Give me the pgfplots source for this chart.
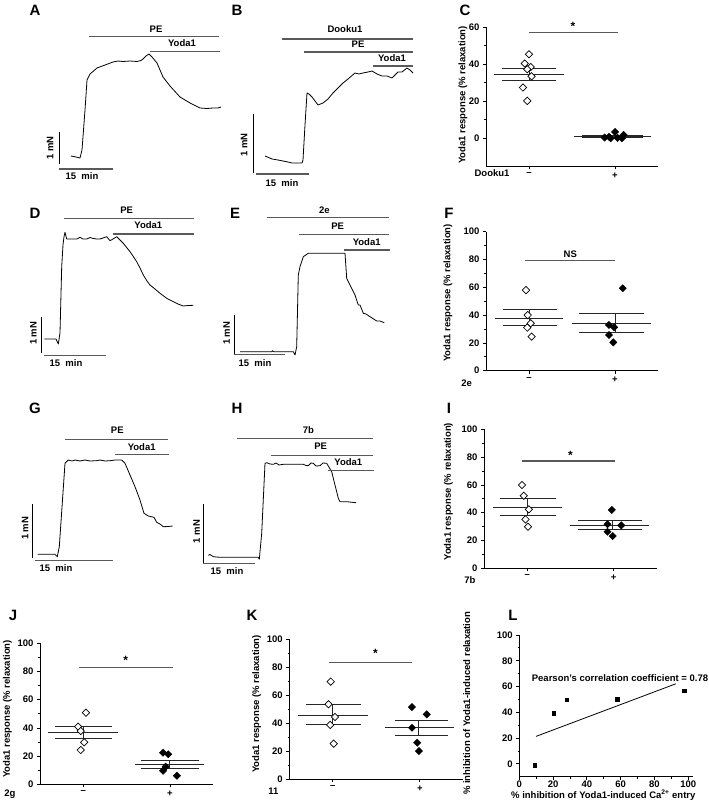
\documentclass[border=0pt]{standalone}
\usepackage{fontspec}
\setmainfont{Liberation Sans}
\usepackage{pgfplots}
\pgfplotsset{compat=1.18}
\definecolor{barc}{gray}{0.35}
\newcommand{\lf}{\bfseries\fontsize{9.5}{11}\selectfont}
\newcommand{\pf}{\bfseries\fontsize{15}{17}\selectfont}
\pgfplotsset{
 dot/.style={scale only axis, axis lines*=left, axis line style={line width=0.9pt},
   xmin=0.5, xmax=2.5, xtick={1,2}, xticklabels={–,+}, tick align=outside,
   major tick length=3pt, minor tick length=1.8pt, tick style={line width=0.8pt, black},
   minor y tick num=1, ticklabel style={font=\lf}, /pgf/number format/assume math mode=true,
   clip=false, anchor=south west},
 om/.style={only marks, mark=square*, mark size=2.6pt, mark options={rotate=45, fill=white, draw=black, line width=0.7pt}},
 fm/.style={only marks, mark=square*, mark size=2.6pt, mark options={rotate=45, fill=black, draw=black}},
 ml/.style={black!85, line width=1pt},
 sg/.style={barc, line width=1.1pt},
 tr/.style={black, line width=0.8pt, line join=round},
 tb/.style={barc, line width=1.1pt},
}
\begin{document}
\begin{tikzpicture}
\useasboundingbox (0,0) rectangle (709pt,-808pt);
% ---------------- traces and labels -------------
\begin{axis}[at={(0pt,-808pt)}, anchor=south west, scale only axis, width=709pt, height=808pt,
  xmin=0, xmax=709, ymin=-808, ymax=0, hide axis, clip=false]
% A
\addplot[tr] coordinates {(71,-156)(76,-157)(80,-158)(82,-150)(85,-110)(87,-80)(90,-74)(97,-68)(105,-65)(113,-62)(118,-61)(123,-61.5)(130,-61)(137,-61.5)(141,-60.5)(143,-59)(146,-56)(149,-54)(152,-57)(157,-63)(160,-70)(163,-77)(170,-86)(180,-97)(190,-103)(200,-108)(207,-108.5)(213,-108)(218,-108)(221,-107)};
\addplot[tb] coordinates {(89,-36.7)(219,-36.7)};
\addplot[tb] coordinates {(150,-51.7)(220,-51.7)};
\addplot[tr] coordinates {(59,-132)(59,-164)};
\addplot[tb] coordinates {(59,-169)(113,-169)};
% B
\addplot[tr] coordinates {(265,-156)(272,-159)(278,-160)(283,-161)(288,-162)(292,-163)(297,-163)(302,-163)(303,-160)(305,-125)(307,-93)(309,-94)(312,-97)(318,-105)(323,-103)(328,-99)(333,-93)(338,-88)(343,-83)(348,-79)(355,-73)(359,-74)(363,-73)(368,-72)(372,-71)(377,-74)(382,-76)(387,-76)(392,-78)(395,-75)(398,-72)(402,-72)(407,-68)(410,-70)(413,-73)};
\addplot[tb] coordinates {(282,-39)(413,-39)};
\addplot[tb] coordinates {(304,-52)(413,-52)};
\addplot[tb] coordinates {(373,-66)(413,-66)};
\addplot[tr] coordinates {(253,-114)(253,-173)};
\addplot[tb] coordinates {(256,-174)(309,-174)};
% D
\addplot[tr] coordinates {(44.3,-339)(56,-339)(58.3,-344)(60,-333)(61.7,-266.7)(63,-245)(64,-236.7)(65,-232.3)(66.7,-239)(70,-239)(76.7,-239)(80,-237.3)(83,-239)(86.7,-239)(90,-237.5)(93.3,-238.5)(96.7,-239)(100,-239)(103,-238)(106.7,-236.7)(110,-240.7)(113,-239)(116.7,-236.7)(120,-240)(123.3,-243.3)(130,-251.7)(133,-256)(136.7,-261.7)(140,-268)(143.3,-275)(147,-281)(150,-285)(155,-289)(160,-293.3)(166.7,-298.3)(173.3,-301.7)(178,-304)(183.3,-306)(188,-305.5)(193.3,-305.3)};
\addplot[tb] coordinates {(64,-218.3)(194,-218.3)};
\addplot[tb] coordinates {(112.7,-234)(194,-234)};
\addplot[tr] coordinates {(41.7,-316.7)(41.7,-352.7)};
\addplot[tb] coordinates {(44.3,-355.7)(106,-355.7)};
% E
\addplot[tr] coordinates {(240,-351.7)(271.7,-351.7)(272.5,-350.7)(273.5,-351.7)(293.3,-351.7)(295,-355)(296.7,-346.7)(298.3,-275)(300,-266.7)(303.3,-256.7)(308.3,-253.3)(345,-253.3)(346.7,-278.3)(350,-285)(355,-295)(358.3,-305)(360,-305)(363.3,-313.3)(366,-314)(370,-316.7)(376.7,-321)(380,-321)(384.3,-322.7)};
\addplot[tb] coordinates {(266.7,-217.3)(389.3,-217.3)};
\addplot[tb] coordinates {(299,-234.3)(389.3,-234.3)};
\addplot[tb] coordinates {(344,-250)(390,-250)};
\addplot[tr] coordinates {(234,-315)(234,-354)};
\addplot[tb] coordinates {(234,-354.3)(285,-354.3)};
% G
\addplot[tr] coordinates {(37.7,-554.3)(55,-554.3)(57.3,-556.7)(59.3,-546.7)(65,-463.3)(68.3,-460)(72,-461)(75,-460)(80,-461)(85,-460)(90,-461)(96.7,-460.7)(100,-460)(105,-461)(110,-460.7)(115,-460)(121.7,-460)(125,-463.3)(130,-475)(135,-486.7)(140,-500)(144,-513.3)(148.3,-516)(154,-517.3)(156.7,-522.3)(160,-524)(163.3,-526.7)(168,-526.5)(172.7,-526)};
\addplot[tb] coordinates {(65,-439.3)(168.3,-439.3)};
\addplot[tb] coordinates {(115,-454.3)(169,-454.3)};
\addplot[tr] coordinates {(32.3,-504)(32.3,-557.7)};
\addplot[tb] coordinates {(35,-560.7)(112.7,-560.7)};
% H
\addplot[tr] coordinates {(208.3,-555.3)(210,-554.5)(213.3,-556.7)(220,-557.3)(258.3,-557.3)(259.3,-559.3)(261.7,-533.3)(265,-463.3)(266.7,-462.7)(270,-464)(273.3,-464.3)(276,-463)(279,-465)(283.3,-464.3)(303.3,-464.3)(306,-465.5)(308.3,-465.7)(311,-463)(313.3,-463.3)(316,-466)(320,-465.7)(323,-463)(326.7,-463.3)(331.7,-471.7)(335,-485)(338.3,-498.3)(340,-501.7)(346.7,-501.7)(356,-502.7)};
\addplot[tb] coordinates {(237.3,-438.3)(373.3,-438.3)};
\addplot[tb] coordinates {(270.7,-455.7)(373.3,-455.7)};
\addplot[tb] coordinates {(328.3,-470.7)(374,-470.7)};
\addplot[tr] coordinates {(203.3,-504.3)(203.3,-562.7)};
\addplot[tb] coordinates {(203.3,-563.3)(255,-563.3)};
% panel letters
\node[font=\pf] at (axis cs:35,-10) {A};
\node[font=\pf] at (axis cs:237,-10) {B};
\node[font=\pf] at (axis cs:465,-10) {C};
\node[font=\pf] at (axis cs:35,-213) {D};
\node[font=\pf] at (axis cs:235,-213) {E};
\node[font=\pf] at (axis cs:449,-213) {F};
\node[font=\pf] at (axis cs:35,-408) {G};
\node[font=\pf] at (axis cs:237,-408) {H};
\node[font=\pf] at (axis cs:449,-408) {I};
\node[font=\pf] at (axis cs:13,-615) {J};
\node[font=\pf] at (axis cs:252,-615) {K};
\node[font=\pf] at (axis cs:513,-615) {L};
% trace labels
\begin{scope}[every node/.style={font=\lf, inner sep=0pt}]
\node at (axis cs:156,-29) {PE};
\node at (axis cs:182,-43) {Yoda1};
\node[rotate=90] at (axis cs:50,-148) {1 mN};
\node at (axis cs:82,-176) {15~ min};
\node at (axis cs:345,-29) {Dooku1};
\node at (axis cs:358,-44) {PE};
\node at (axis cs:392,-58) {Yoda1};
\node[rotate=90] at (axis cs:244,-145) {1 mN};
\node at (axis cs:282,-183) {15~ min};
\node at (axis cs:126.7,-210.7) {PE};
\node at (axis cs:148.3,-225) {Yoda1};
\node[rotate=90] at (axis cs:33.3,-333.3) {1 mN};
\node at (axis cs:66,-363.3) {15~ min};
\node at (axis cs:324.3,-210) {2e};
\node at (axis cs:337.7,-226.7) {PE};
\node at (axis cs:366.7,-242.3) {Yoda1};
\node[rotate=90] at (axis cs:226.7,-333.3) {1 mN};
\node at (axis cs:255,-363.3) {15~ min};
\node at (axis cs:117.3,-430.7) {PE};
\node at (axis cs:141.7,-446.7) {Yoda1};
\node[rotate=90] at (axis cs:25,-528.3) {1 mN};
\node at (axis cs:56,-568.3) {15~ min};
\node at (axis cs:308.3,-430) {7b};
\node at (axis cs:320.7,-446.7) {PE};
\node at (axis cs:348.3,-461.7) {Yoda1};
\node[rotate=90] at (axis cs:196.7,-531.7) {1 mN};
\node at (axis cs:227,-570.7) {15~ min};
% y labels of dot plots
\node[rotate=90] at (axis cs:463,-95) {Yoda1 response (\% relaxation)};
\node[rotate=90] at (axis cs:448,-293) {Yoda1 response (\% relaxation)};
\node[rotate=90] at (axis cs:448.3,-491.7) {Yoda1 response (\% relaxation)};
\node[rotate=90] at (axis cs:7.3,-709) {Yoda1 response (\% relaxation)};
\node[rotate=90] at (axis cs:256.7,-704) {Yoda1 response (\% relaxation)};
\node[rotate=90] at (axis cs:466.7,-703.3) {\% inhibition of Yoda1-induced relaxation};
\node at (axis cs:603.3,-795) {\% inhibition of Yoda1-induced Ca\textsuperscript{2+} entry};
\node at (axis cs:620,-678.3) {Pearson's correlation coefficient = 0.78};
\node at (axis cs:492,-173) {Dooku1};
\node at (axis cs:466.7,-383) {2e};
\node at (axis cs:470,-580) {7b};
\node at (axis cs:10,-794) {2g};
\node at (axis cs:273.3,-791.7) {11};
\end{scope}
\end{axis}
% ---------------- C ----------------
\begin{axis}[dot, at={(486pt,-166pt)}, width=172pt, height=138.75pt, ymin=-15, ymax=60, ytick={0,20,40,60}]
\addplot[om] coordinates {(1.00,45.4)(0.95,40.4)(1.02,38.5)(0.98,37.3)(1.03,33.5)(0.93,27.4)(0.98,20.2)};
\addplot[ml] coordinates {(0.59,34.6)(1.41,34.6)};
\addplot[ml] coordinates {(0.69,37.7)(1.31,37.7)};
\addplot[ml] coordinates {(0.69,31.4)(1.31,31.4)};
\addplot[ml] coordinates {(1,31.4)(1,37.7)};
\addplot[fm] coordinates {(2.00,3.4)(2.10,1.8)(1.88,0.4)(1.95,0)(2.03,0.2)(2.08,0)(1.93,0.8)};
\addplot[ml] coordinates {(1.52,1.0)(2.42,1.0)};
\addplot[ml] coordinates {(1.62,1.6)(2.32,1.6)};
\addplot[ml] coordinates {(1.62,0.4)(2.32,0.4)};
\addplot[sg] coordinates {(1.0,57.3)(2.03,57.3)};
\node[font=\bfseries\fontsize{12}{14}\selectfont, yshift=-2.5pt] at (axis cs:1.51,61.6) {*};
\end{axis}
% ---------------- F ----------------
\begin{axis}[dot, at={(486pt,-370.7pt)}, width=172pt, height=139pt, ymin=0, ymax=100, ytick={0,20,...,100}]
\addplot[om] coordinates {(0.965,58)(0.985,40)(1.02,34.1)(0.98,31)(1.03,24.5)};
\addplot[ml] coordinates {(0.605,37.7)(1.395,37.7)};
\addplot[ml] coordinates {(0.70,43.7)(1.33,43.7)};
\addplot[ml] coordinates {(0.70,32.2)(1.33,32.2)};
\addplot[ml] coordinates {(1,32.2)(1,43.7)};
\addplot[fm] coordinates {(2.09,59.3)(1.93,32.9)(1.99,31.2)(1.93,25.7)(1.98,20.4)};
\addplot[ml] coordinates {(1.5,34.1)(2.42,34.1)};
\addplot[ml] coordinates {(1.58,41.0)(2.34,41.0)};
\addplot[ml] coordinates {(1.58,27.4)(2.34,27.4)};
\addplot[ml] coordinates {(2,27.4)(2,41.0)};
\addplot[sg] coordinates {(0.95,79.1)(2.0,79.1)};
\node[font=\lf] at (axis cs:1.48,84) {NS};
\end{axis}
% ---------------- I ----------------
\begin{axis}[dot, at={(484pt,-568.3pt)}, width=172.7pt, height=139pt, ymin=0, ymax=100, ytick={0,20,...,100}]
\addplot[om] coordinates {(0.94,59.9)(0.96,52.2)(1.02,42.4)(0.98,35.2)(1.01,29.9)};
\addplot[ml] coordinates {(0.608,43.9)(1.40,43.9)};
\addplot[ml] coordinates {(0.69,49.9)(1.33,49.9)};
\addplot[ml] coordinates {(0.69,38.3)(1.33,38.3)};
\addplot[ml] coordinates {(1,38.3)(1,49.9)};
\addplot[fm] coordinates {(1.98,42)(1.93,31.7)(2.09,30.9)(1.93,26.3)(1.99,23.2)};
\addplot[ml] coordinates {(1.496,30.9)(2.41,30.9)};
\addplot[ml] coordinates {(1.59,34.5)(2.33,34.5)};
\addplot[ml] coordinates {(1.59,27.8)(2.33,27.8)};
\addplot[ml] coordinates {(1.99,27.8)(1.99,34.5)};
\addplot[sg] coordinates {(0.94,77.2)(2.02,77.2)};
\node[font=\bfseries\fontsize{12}{14}\selectfont, yshift=-2.5pt] at (axis cs:1.50,83.2) {*};
\end{axis}
% ---------------- J ----------------
\begin{axis}[dot, at={(40pt,-784.3pt)}, width=173.3pt, height=141pt, ymin=0, ymax=100, ytick={0,20,...,100}]
\addplot[om] coordinates {(1.03,50.8)(0.94,40.9)(0.97,37.8)(1.01,29.8)(0.97,24.3)};
\addplot[ml] coordinates {(0.596,36.6)(1.397,36.6)};
\addplot[ml] coordinates {(0.67,41.3)(1.33,41.3)};
\addplot[ml] coordinates {(0.67,32.6)(1.33,32.6)};
\addplot[ml] coordinates {(1,32.6)(1,41.3)};
\addplot[fm] coordinates {(1.92,22.4)(1.98,21.3)(1.95,12.5)(1.92,9.6)(2.08,6.1)};
\addplot[ml] coordinates {(1.60,14.4)(2.39,14.4)};
\addplot[ml] coordinates {(1.67,17.2)(2.33,17.2)};
\addplot[ml] coordinates {(1.67,11.3)(2.33,11.3)};
\addplot[ml] coordinates {(1.99,11.3)(1.99,17.2)};
\addplot[sg] coordinates {(0.95,83)(2.03,83)};
\node[font=\bfseries\fontsize{12}{14}\selectfont, yshift=-2.5pt] at (axis cs:1.49,89.4) {*};
\end{axis}
% ---------------- K ----------------
\begin{axis}[dot, at={(289.3pt,-779pt)}, width=174pt, height=139.7pt, ymin=0, ymax=100, ytick={0,20,...,100}]
\addplot[om] coordinates {(0.976,69.7)(0.95,53.5)(1.025,44.4)(0.97,38.7)(1.01,25.3)};
\addplot[ml] coordinates {(0.60,45.8)(1.40,45.8)};
\addplot[ml] coordinates {(0.69,53.5)(1.32,53.5)};
\addplot[ml] coordinates {(0.69,38.7)(1.32,38.7)};
\addplot[ml] coordinates {(1,38.7)(1,53.5)};
\addplot[fm] coordinates {(1.91,51.5)(2.08,46.3)(1.91,36.7)(1.97,26)(1.99,20)};
\addplot[ml] coordinates {(1.60,36.7)(2.39,36.7)};
\addplot[ml] coordinates {(1.71,42)(2.32,42)};
\addplot[ml] coordinates {(1.71,30.8)(2.32,30.8)};
\addplot[ml] coordinates {(1.99,30.8)(1.99,42)};
\addplot[sg] coordinates {(0.956,83.3)(1.91,83.3)};
\node[font=\bfseries\fontsize{12}{14}\selectfont, yshift=-2.5pt] at (axis cs:1.49,91.8) {*};
\end{axis}
% ---------------- L ----------------
\begin{axis}[dot, at={(519.3pt,-776.7pt)}, width=174pt, height=141.7pt, xmin=0, xmax=103, ymin=-10, ymax=100,
  xtick={0,20,...,100}, xticklabels={0,20,40,60,80,100}, minor x tick num=1, ytick={0,20,...,100},
  xticklabel style={inner sep=0.5pt, yshift=-0.5pt}]
\addplot[only marks, mark=square*, mark size=1.7pt, black] coordinates {(9.1,-1.1)(20.3,39.4)(28.2,49.7)(57.9,50.3)(97.7,57)};
\addplot[black, line width=0.8pt] coordinates {(9.9,21.3)(92.6,62.1)};
\end{axis}
\end{tikzpicture}
\end{document}
